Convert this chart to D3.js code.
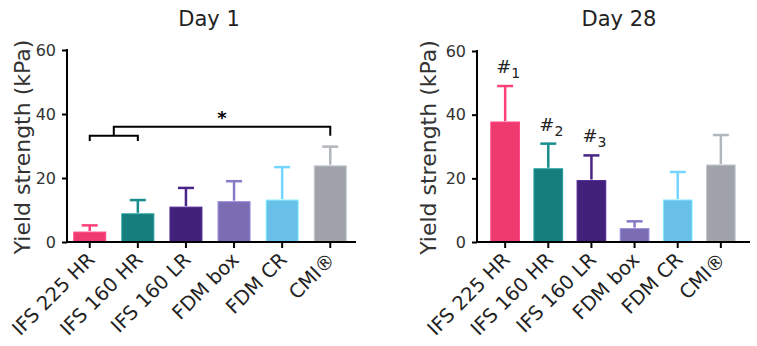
<!DOCTYPE html>
<html>
<head>
<meta charset="utf-8">
<script src="https://cdn.jsdelivr.net/npm/d3@7"></script>
<style>
  body { margin: 0; background: #fff; }
  text { font-family: "DejaVu Sans", Verdana, sans-serif; }
</style>
</head>
<body>
<script>
//data
var categories = ["IFS 225 HR", "IFS 160 HR", "IFS 160 LR", "FDM box", "FDM CR", "CMI\u00AE"];
var colors = ["#EE3A6E", "#167F7E", "#42217A", "#7A6DB3", "#68BFE8", "#A0A4AA"];
var yTicks = [0, 20, 40, 60];

var day1Mean = [3.1, 8.8, 10.9, 12.6, 13.1, 23.8];
var day1SD   = [2.1, 4.3, 6.0, 6.4, 10.3, 6.0];

var day28Mean = [37.7, 23.0, 19.3, 4.2, 13.2, 24.2];
var day28SD   = [11.3, 7.9, 7.9, 2.3, 8.8, 9.4];
var day28Marks = ["1", "2", "3", "", "", ""];

//significance bracket for day 1: groups 0-1 vs group 5
var bracketLeft = [0, 1];
var bracketRight = 5;
var bracketLevels = [31.6, 33.2, 36.0];

var W = 757, H = 346;

var svg = d3.select("body").append("svg")
            .attr("width", W)
            .attr("height", H);

function drawPanel(p) {
    var yScale = d3.scaleLinear().domain([0, 60]).range([p.bottom, p.top]);
    var xScale = d3.scaleBand()
                   .domain(categories)
                   .range([p.left, p.right])
                   .paddingInner(0.335)
                   .paddingOuter(p.outer);

    var g = svg.append("g");

    //title
    g.append("text")
     .attr("x", p.titleX)
     .attr("y", 26)
     .attr("text-anchor", "middle")
     .style("font-size", "21px")
     .attr("fill", "#222")
     .text(p.title);

    //y label
    g.append("text")
     .attr("transform", "translate(" + p.labelX + "," + ((p.top + p.bottom) / 2 + 1) + ") rotate(-90)")
     .attr("text-anchor", "middle")
     .style("font-size", "22px")
     .attr("fill", "#333")
     .text("Yield strength (kPa)");

    //bars
    var bw = xScale.bandwidth();
    g.selectAll("rect.bar")
     .data(p.mean)
     .enter()
     .append("rect")
     .attr("class", "bar")
     .attr("x", function(d, i){ return xScale(categories[i]); })
     .attr("y", function(d){ return yScale(d); })
     .attr("width", bw)
     .attr("height", function(d){ return p.bottom - yScale(d); })
     .attr("fill", function(d, i){ return colors[i]; })
     .attr("stroke", function(d, i){ return d3.color(colors[i]).brighter(0.6); })
     .attr("stroke-width", 1);

    //error bars
    var eb = g.selectAll("g.err")
              .data(p.mean)
              .enter()
              .append("g")
              .attr("class", "err")
              .attr("stroke", function(d, i){ return d3.color(colors[i]).brighter(0.3); })
              .attr("stroke-width", 2.5);

    eb.append("line")
      .attr("x1", function(d, i){ return xScale(categories[i]) + bw / 2; })
      .attr("x2", function(d, i){ return xScale(categories[i]) + bw / 2; })
      .attr("y1", function(d){ return yScale(d) - 1; })
      .attr("y2", function(d, i){ return yScale(d + p.sd[i]); });

    eb.append("line")
      .attr("x1", function(d, i){ return xScale(categories[i]) + bw / 2 - 8; })
      .attr("x2", function(d, i){ return xScale(categories[i]) + bw / 2 + 8; })
      .attr("y1", function(d, i){ return yScale(d + p.sd[i]); })
      .attr("y2", function(d, i){ return yScale(d + p.sd[i]); });

    //y axis
    var yAxis = d3.axisLeft(yScale)
                  .tickValues(yTicks)
                  .tickSizeInner(5)
                  .tickSizeOuter(0)
                  .tickPadding(6);
    var ya = g.append("g")
              .attr("transform", "translate(" + p.left + ",0)")
              .call(yAxis);
    ya.select(".domain").attr("stroke", "#000").attr("stroke-width", 2)
      .attr("d", "M0," + (p.bottom + 1) + "V" + (p.top - 1));
    ya.selectAll(".tick line").attr("stroke", "#000").attr("stroke-width", 2);
    ya.selectAll(".tick text")
      .style("font-size", "16px")
      .style("font-family", "'DejaVu Sans', Verdana, sans-serif")
      .attr("fill", "#333");

    //x axis
    var xAxis = d3.axisBottom(xScale)
                  .tickSizeInner(6)
                  .tickSizeOuter(0)
                  .tickFormat("");
    var xa = g.append("g")
              .attr("transform", "translate(0," + p.bottom + ")")
              .call(xAxis);
    xa.select(".domain").attr("stroke", "#000").attr("stroke-width", 2)
      .attr("d", "M" + (p.left - 1) + ",0H" + p.axisEnd);
    xa.selectAll(".tick line").attr("stroke", "#000").attr("stroke-width", 2);

    g.selectAll("text.xlab")
     .data(categories)
     .enter()
     .append("text")
     .attr("class", "xlab")
     .attr("transform", function(d){
         return "translate(" + (xScale(d) + bw / 2 + 6) + "," + (p.bottom + 19) + ") rotate(-45)";
     })
     .attr("text-anchor", "end")
     .style("font-size", "19.5px")
     .attr("fill", "#222")
     .text(function(d){ return d; });

    return { x: xScale, y: yScale, g: g };
}

//Day 1
var left = drawPanel({
    title: "Day 1", titleX: 209, labelX: 30,
    left: 67, right: 353, axisEnd: 356, top: 50, bottom: 242, outer: 0.14,
    mean: day1Mean, sd: day1SD
});

var bwL = left.x.bandwidth();
var cx = function(i){ return left.x(categories[i]) + bwL / 2; };
var midX = (cx(bracketLeft[0]) + cx(bracketLeft[1])) / 2;
var yb = left.y;

left.g.append("path")
    .attr("d", "M" + cx(bracketLeft[0]) + "," + yb(bracketLevels[0]) +
               "V" + yb(bracketLevels[1]) +
               "H" + cx(bracketLeft[1]) +
               "V" + yb(bracketLevels[0]) +
               "M" + midX + "," + yb(bracketLevels[1]) +
               "V" + yb(bracketLevels[2]) +
               "H" + cx(bracketRight) +
               "V" + yb(bracketLevels[1]))
    .attr("fill", "none")
    .attr("stroke", "#000")
    .attr("stroke-width", 2);

left.g.append("text")
    .attr("x", (midX + cx(bracketRight)) / 2)
    .attr("y", yb(bracketLevels[2]) - 3)
    .attr("text-anchor", "middle")
    .style("font-size", "18px")
    .style("font-weight", "bold")
    .attr("fill", "#000")
    .text("*");

//Day 28
var right = drawPanel({
    title: "Day 28", titleX: 619, labelX: 436,
    left: 477, right: 749, axisEnd: 750, top: 51, bottom: 242, outer: 0.32,
    mean: day28Mean, sd: day28SD
});

var bwR = right.x.bandwidth();
var marks = right.g.selectAll("text.mark")
    .data(day28Marks)
    .enter()
    .filter(function(d){ return d !== ""; })
    .append("text")
    .attr("class", "mark")
    .attr("x", function(d, i){ return right.x(categories[i]) + bwR / 2 + 3; })
    .attr("y", function(d, i){ return right.y(day28Mean[i] + day28SD[i]) - 13; })
    .attr("text-anchor", "middle")
    .style("font-size", "18px")
    .attr("fill", "#222");

marks.append("tspan").text("#");
marks.append("tspan")
     .attr("dy", 5)
     .style("font-size", "14px")
     .text(function(d){ return d; });
</script>
</body>
</html>
